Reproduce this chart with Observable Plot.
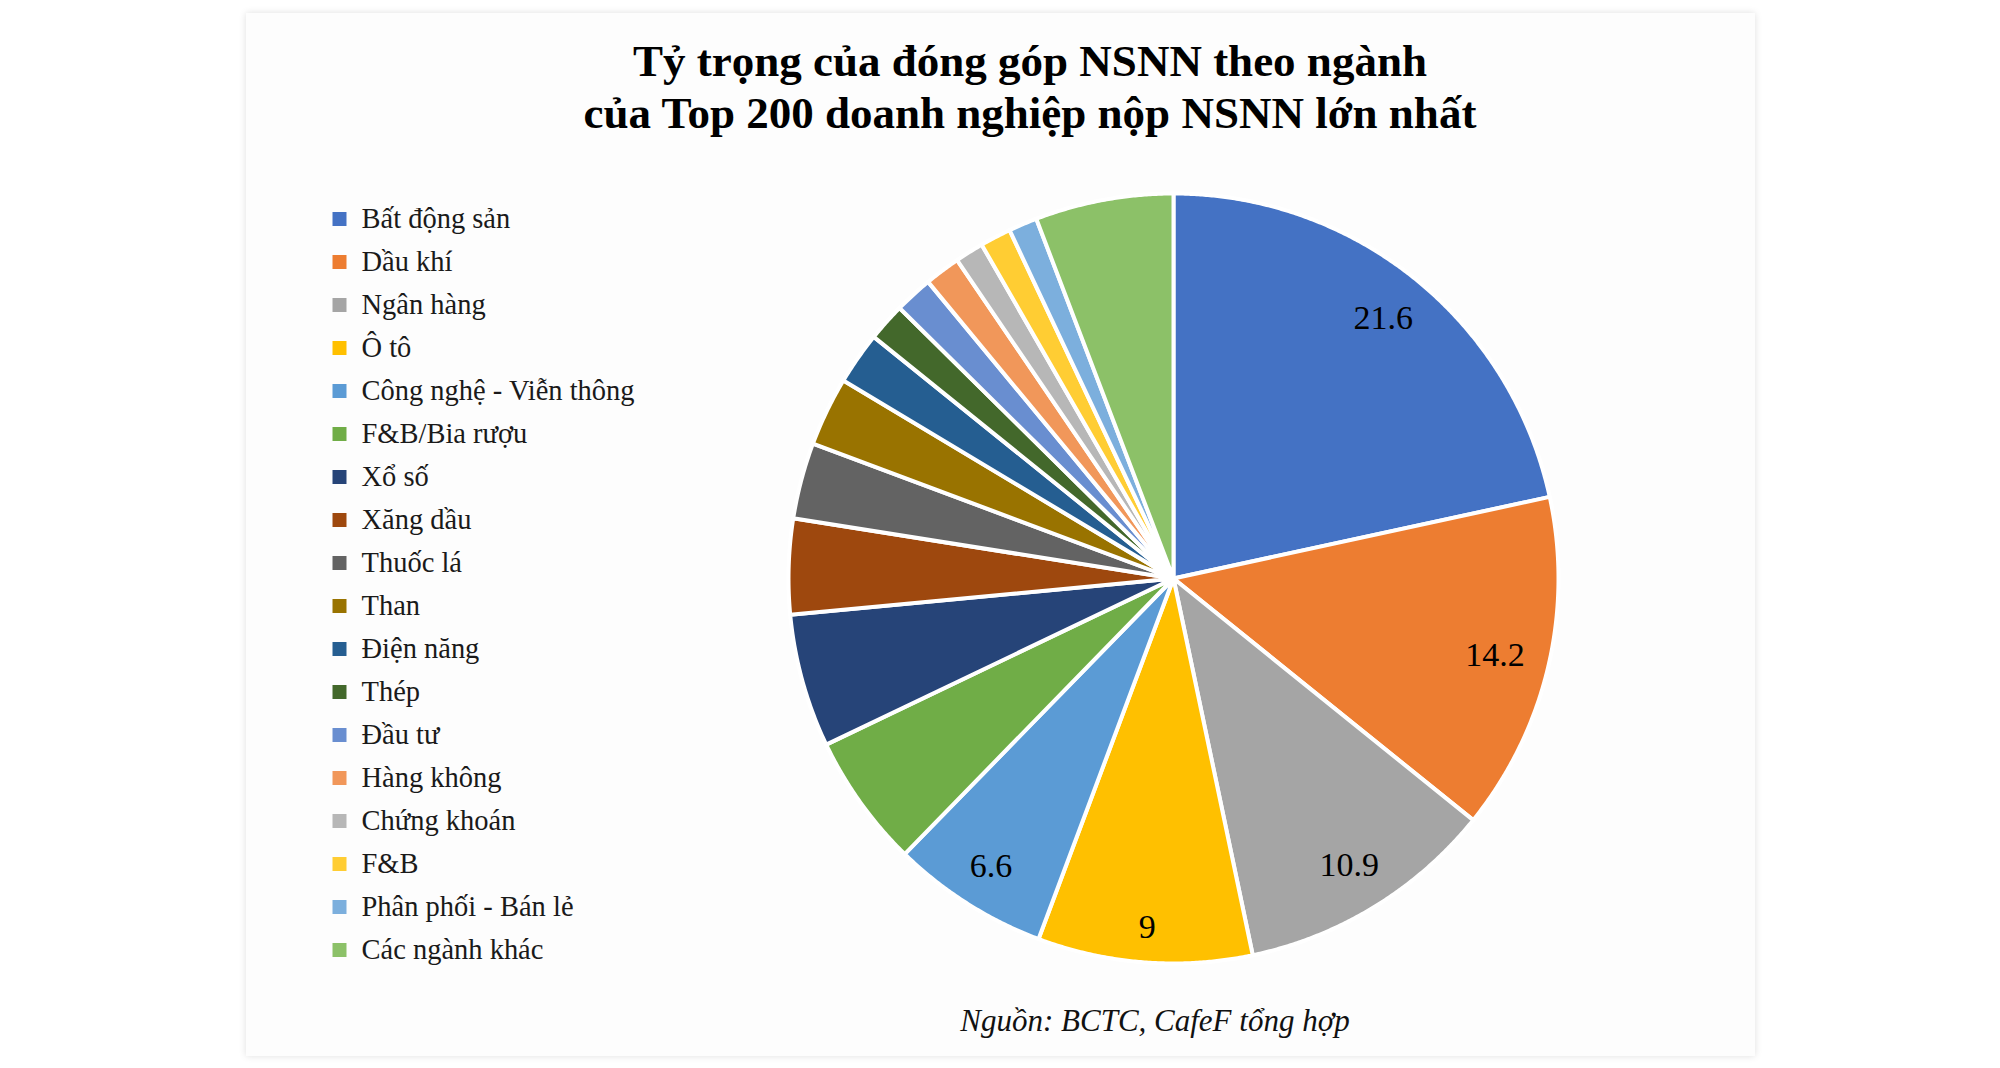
<!DOCTYPE html>
<html>
<head>
<meta charset="utf-8">
<script src="https://cdn.jsdelivr.net/npm/d3@7"></script>
<script src="https://cdn.jsdelivr.net/npm/@observablehq/plot@0.6"></script>
<style>
  html, body { margin: 0; padding: 0; background: #ffffff; }
  body { width: 2000px; height: 1068px; position: relative; overflow: hidden; font-family: "Liberation Serif", "Times New Roman", serif; }
  #card { position: absolute; left: 246px; top: 13px; width: 1509px; height: 1043px; background: #fdfdfd; box-shadow: 0 0 7px rgba(0,0,0,0.13); }
  .title { position: absolute; left: 480px; width: 1100px; top: 35px; text-align: center; font-weight: bold; font-size: 45px; line-height: 52px; color: #000; }
  .caption { position: absolute; left: 855px; width: 600px; top: 1001px; text-align: center; font-style: italic; font-size: 31px; line-height: 40px; color: #111; }
  #legend { position: absolute; left: 300px; top: 192px; }
  #pie { position: absolute; left: 773px; top: 178px; }
</style>
</head>
<body>
<div id="card"></div>
<div class="title">Tỷ trọng của đóng góp NSNN theo ngành<br>của Top 200 doanh nghiệp nộp NSNN lớn nhất</div>
<div id="legend"></div>
<div id="pie"></div>
<div class="caption">Nguồn: BCTC, CafeF tổng hợp</div>
<script>
// ---- Data ----
const categories = [
  "Bất động sản", "Dầu khí", "Ngân hàng", "Ô tô", "Công nghệ - Viễn thông",
  "F&B/Bia rượu", "Xổ số", "Xăng dầu", "Thuốc lá", "Than", "Điện năng",
  "Thép", "Đầu tư", "Hàng không", "Chứng khoán", "F&B",
  "Phân phối - Bán lẻ", "Các ngành khác"
];
const values = [21.6, 14.2, 10.9, 9, 6.6, 5.6, 5.6, 4.0, 3.2, 2.9, 2.2, 1.6, 1.6, 1.5, 1.2, 1.3, 1.2, 5.8];
const colors = [
  "#4472C4", "#ED7D31", "#A5A5A5", "#FFC000", "#5B9BD5", "#70AD47",
  "#264478", "#9E480E", "#636363", "#997300", "#255E91", "#43682B",
  "#698ED0", "#F1975A", "#B7B7B7", "#FFCD33", "#7CAFDD", "#8CC168"
];
const labelledCategories = ["Bất động sản", "Dầu khí", "Ngân hàng", "Ô tô", "Công nghệ - Viễn thông"];

// ---- Build table ----
const rows = categories.map((c, i) => ({category: c, value: values[i]}));
const arcs = d3.pie().sort(null).value(d => d.value)(rows);

// polygon vertices for each slice (in unit-radius pie space)
const polys = [];
arcs.forEach(a => {
  const c = a.data.category;
  polys.push({category: c, x: 0, y: 0});
  const n = Math.max(2, Math.ceil((a.endAngle - a.startAngle) / 0.005));
  for (let k = 0; k <= n; k++) {
    const t = a.startAngle + (a.endAngle - a.startAngle) * k / n;
    polys.push({category: c, x: Math.sin(t), y: Math.cos(t)});
  }
});

// "inside end" style label placement: keep the label box inside the slice's outer edge
const PX = 385;            // pixels per unit radius
const labelFont = 34;
const labels = arcs
  .filter(a => labelledCategories.includes(a.data.category))
  .map(a => {
    const m = (a.startAngle + a.endAngle) / 2;
    const txt = String(a.data.value);
    const halfW = [...txt].reduce((s, ch) => s + (ch === "." ? 0.25 : 0.5), 0) * labelFont / 2;
    const halfH = 12;
    const proj = halfW * Math.abs(Math.sin(m)) + halfH * Math.abs(Math.cos(m));
    const r = (0.943 * 384 - proj) / PX;
    return {x: r * Math.sin(m), y: r * Math.cos(m), text: txt};
  });

const colorScale = {domain: categories, range: colors};

// ---- Pie ----
const R = 400 / PX;
const pie = Plot.plot({
  width: 800, height: 800,
  margin: 0,
  x: {domain: [-R, R], axis: null},
  y: {domain: [-R, R], axis: null},
  color: colorScale,
  style: {background: "transparent"},
  marks: [
    Plot.line(polys, {x: "x", y: "y", z: "category", fill: "category", stroke: "white", strokeWidth: 4, curve: "linear-closed", strokeLinejoin: "round"}),
    Plot.text(labels, {x: "x", y: "y", text: "text", fontSize: labelFont, fontFamily: "Liberation Serif", fill: "#000"})
  ]
});
document.getElementById("pie").appendChild(pie);

// ---- Legend ----
const rowH = 43.6;
const legend = Plot.plot({
  width: 450, height: categories.length * rowH,
  margin: 0,
  y: {type: "band", domain: categories, padding: 0, axis: null},
  color: colorScale,
  style: {background: "transparent"},
  marks: [
    Plot.dot(categories, {y: d => d, frameAnchor: "left", dx: 39, symbol: "square", r: 7.9, fill: d => d}),
    Plot.text(categories, {y: d => d, text: d => d, frameAnchor: "left", dx: 61, textAnchor: "start", fontSize: 28.5, fontFamily: "Liberation Serif", fill: "#1a1a1a"})
  ]
});
document.getElementById("legend").appendChild(legend);
</script>
</body>
</html>
